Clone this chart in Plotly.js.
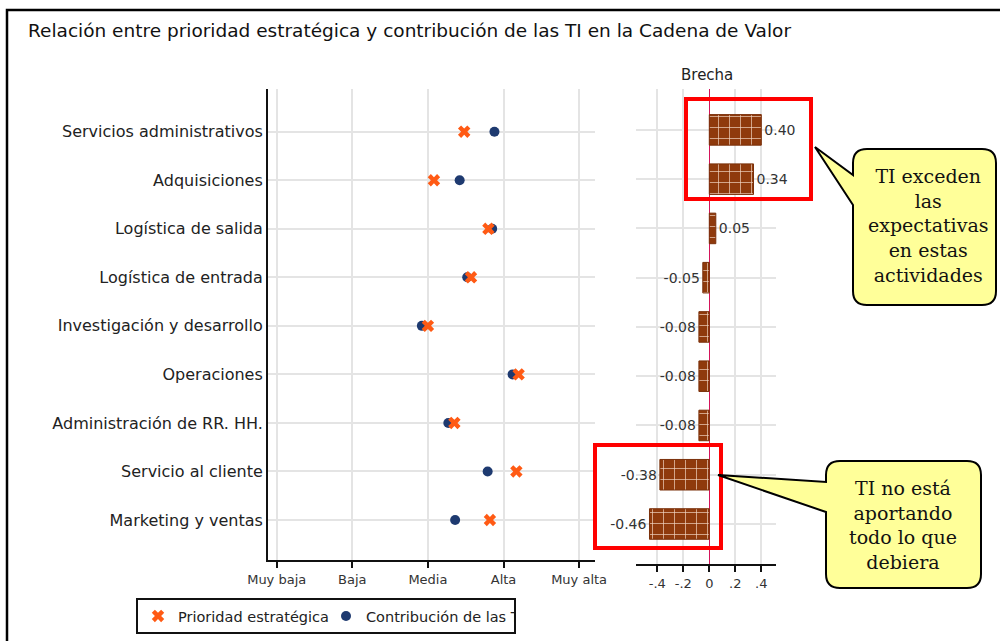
<!DOCTYPE html>
<html>
<head>
<meta charset="utf-8">
<script src="https://cdn.plot.ly/plotly-3.0.1.min.js"></script>
<style>
  html, body { margin: 0; padding: 0; background: #ffffff; }
  #chart { width: 1000px; height: 641px; }
</style>
</head>
<body>
<div id="chart"></div>
<script>
// Value-chain activities, listed top to bottom
const actividades = [
  "Servicios administrativos",
  "Adquisiciones",
  "Logística de salida",
  "Logística de entrada",
  "Investigación y desarrollo",
  "Operaciones",
  "Administración de RR. HH.",
  "Servicio al cliente",
  "Marketing y ventas"
];

// Scores on a 1 (Muy baja) to 5 (Muy alta) scale
const prioridad = [3.48, 3.08, 3.80, 3.57, 3.00, 4.20, 3.35, 4.17, 3.82];
const contribucion = [3.88, 3.42, 3.85, 3.52, 2.92, 4.12, 3.27, 3.79, 3.36];

// Gap: contribution minus strategic priority
const brecha = [0.40, 0.34, 0.05, -0.05, -0.08, -0.08, -0.08, -0.38, -0.46];

const nivelValores = [1, 2, 3, 4, 5];
const nivelEtiquetas = ["Muy baja", "Baja", "Media", "Alta", "Muy alta"];

const brechaTicks = [-0.4, -0.2, 0, 0.2, 0.4];
const brechaEtiquetas = ["-.4", "-.2", "0", ".2", ".4"];

const W = 1000, H = 641;
const px = x => x / W;
const py = y => 1 - y / H;

// bottom-to-top order for the category axes
const orden = actividades.slice().reverse();

const traces = [
  {
    type: "scatter", mode: "markers",
    x: contribucion, y: actividades,
    xaxis: "x", yaxis: "y",
    name: "Contribución de las TI",
    legendrank: 2,
    marker: { symbol: "circle", size: 10, color: "#1e3a70" },
    hoverinfo: "x+y"
  },
  {
    type: "scatter", mode: "markers",
    x: prioridad, y: actividades,
    xaxis: "x", yaxis: "y",
    name: "Prioridad estratégica",
    legendrank: 1,
    marker: { symbol: "x", size: 11, color: "#ff5a14" },
    hoverinfo: "x+y"
  },
  {
    type: "bar", orientation: "h",
    x: brecha, y: actividades,
    xaxis: "x2", yaxis: "y2",
    width: 0.62,
    showlegend: false,
    text: brecha.map(v => v.toFixed(2)),
    textposition: "outside",
    cliponaxis: false,
    textfont: { family: "DejaVu Sans", size: 14, color: "#333333" },
    marker: {
      color: "#8f3a0c",
      line: { color: "#7a300a", width: 1 },
      pattern: { shape: "+", fgcolor: "#f2d6c4", bgcolor: "#8f3a0c", size: 11, solidity: 0.12 }
    },
    hoverinfo: "x+y"
  }
];

// Rounded speech-bubble outline with a pointer on its left side
function burbuja(x0, y0, x1, y1, r, tip, joinTop, joinBot) {
  const P = (x, y) => px(x).toFixed(5) + "," + py(y).toFixed(5);
  return "M" + P(tip[0], tip[1]) +
    " L" + P(x0, joinTop) +
    " L" + P(x0, y0 + r) +
    " Q" + P(x0, y0) + " " + P(x0 + r, y0) +
    " L" + P(x1 - r, y0) +
    " Q" + P(x1, y0) + " " + P(x1, y0 + r) +
    " L" + P(x1, y1 - r) +
    " Q" + P(x1, y1) + " " + P(x1 - r, y1) +
    " L" + P(x0 + r, y1) +
    " Q" + P(x0, y1) + " " + P(x0, y1 - r) +
    " L" + P(x0, joinBot) + " Z";
}

const shapes = [
  // outer frame
  { type: "rect", xref: "paper", yref: "paper",
    x0: px(7), y0: py(660), x1: px(1020), y1: py(10),
    line: { color: "#000000", width: 2.5 }, fillcolor: "rgba(0,0,0,0)" },
  // highlight boxes on the gap panel
  { type: "rect", xref: "paper", yref: "paper",
    x0: px(686), y0: py(199), x1: px(811), y1: py(99),
    line: { color: "#ff0000", width: 4 }, fillcolor: "rgba(0,0,0,0)" },
  { type: "rect", xref: "paper", yref: "paper",
    x0: px(595), y0: py(548), x1: px(721), y1: py(445),
    line: { color: "#ff0000", width: 4 }, fillcolor: "rgba(0,0,0,0)" },
  // callouts
  { type: "path", xref: "paper", yref: "paper",
    path: burbuja(853, 149, 996, 305, 14, [815, 147], 175, 205),
    fillcolor: "#ffff99", line: { color: "#000000", width: 2 } },
  { type: "path", xref: "paper", yref: "paper",
    path: burbuja(826, 461, 981, 588, 14, [718, 475], 482, 512),
    fillcolor: "#ffff99", line: { color: "#000000", width: 2 } }
];

const annotations = [
  { xref: "paper", yref: "paper", x: px(707), y: py(75),
    text: "Brecha", showarrow: false, xanchor: "center", yanchor: "middle",
    font: { family: "DejaVu Sans", size: 15, color: "#222222" } },
  { xref: "paper", yref: "paper", x: px(928), y: py(226),
    text: "TI exceden<br>las<br>expectativas<br>en estas<br>actividades",
    showarrow: false, xanchor: "center", yanchor: "middle", align: "center",
    font: { family: "DejaVu Serif", size: 19, color: "#111111" } },
  { xref: "paper", yref: "paper", x: px(903), y: py(525),
    text: "TI no está<br>aportando<br>todo lo que<br>debiera",
    showarrow: false, xanchor: "center", yanchor: "middle", align: "center",
    font: { family: "DejaVu Serif", size: 19, color: "#111111" } }
];

const grid = "#e4e4e4";

const layout = {
  width: W, height: H,
  margin: { l: 0, r: 0, t: 0, b: 0 },
  paper_bgcolor: "#ffffff",
  plot_bgcolor: "#ffffff",
  font: { family: "DejaVu Sans", color: "#222222" },
  title: {
    text: "Relación entre prioridad estratégica y contribución de las TI en la Cadena de Valor",
    x: px(28), xanchor: "left", y: py(31), yanchor: "middle",
    font: { family: "DejaVu Sans", size: 18.5, color: "#111111" }
  },
  xaxis: {
    domain: [px(268), px(595)], range: [0.885, 5.21], anchor: "y",
    tickmode: "array", tickvals: nivelValores, ticktext: nivelEtiquetas,
    showgrid: true, gridcolor: grid, gridwidth: 2, zeroline: false,
    showline: true, linecolor: "#111111", linewidth: 2,
    ticks: "outside", ticklen: 6, tickwidth: 2, tickcolor: "#111111",
    tickfont: { family: "DejaVu Sans", size: 13, color: "#333333" }
  },
  yaxis: {
    domain: [py(560), py(89)], range: [-0.824, 8.88], anchor: "x",
    type: "category", categoryorder: "array", categoryarray: orden,
    showgrid: true, gridcolor: grid, gridwidth: 2, zeroline: false,
    showline: true, linecolor: "#111111", linewidth: 2,
    ticks: "", ticklabelstandoff: 0,
    tickfont: { family: "DejaVu Sans", size: 16, color: "#222222" }
  },
  xaxis2: {
    domain: [px(636), px(776)], range: [-0.5638, 0.5131], anchor: "y2",
    tickmode: "array", tickvals: brechaTicks, ticktext: brechaEtiquetas,
    showgrid: true, gridcolor: grid, gridwidth: 2,
    zeroline: true, zerolinecolor: "#d4145a", zerolinewidth: 1,
    showline: true, linecolor: "#111111", linewidth: 2,
    ticks: "outside", ticklen: 6, tickwidth: 2, tickcolor: "#111111",
    tickfont: { family: "DejaVu Sans", size: 13, color: "#333333" }
  },
  yaxis2: {
    domain: [py(564), py(89)], range: [-0.812, 8.83], anchor: "x2",
    type: "category", categoryorder: "array", categoryarray: orden,
    showgrid: true, gridcolor: grid, gridwidth: 2, zeroline: false,
    showline: false, showticklabels: false, ticks: ""
  },
  showlegend: true,
  legend: {
    orientation: "h",
    x: px(136), xanchor: "left",
    y: py(598), yanchor: "top",
    bgcolor: "#ffffff", bordercolor: "#111111", borderwidth: 2,
    itemwidth: 30,
    entrywidth: 143, entrywidthmode: "pixels",
    font: { family: "DejaVu Sans", size: 14.5, color: "#222222" }
  },
  shapes: shapes,
  annotations: annotations,
  bargap: 0.3
};

Plotly.newPlot("chart", traces, layout, { displayModeBar: false, staticPlot: true });
</script>
</body>
</html>
